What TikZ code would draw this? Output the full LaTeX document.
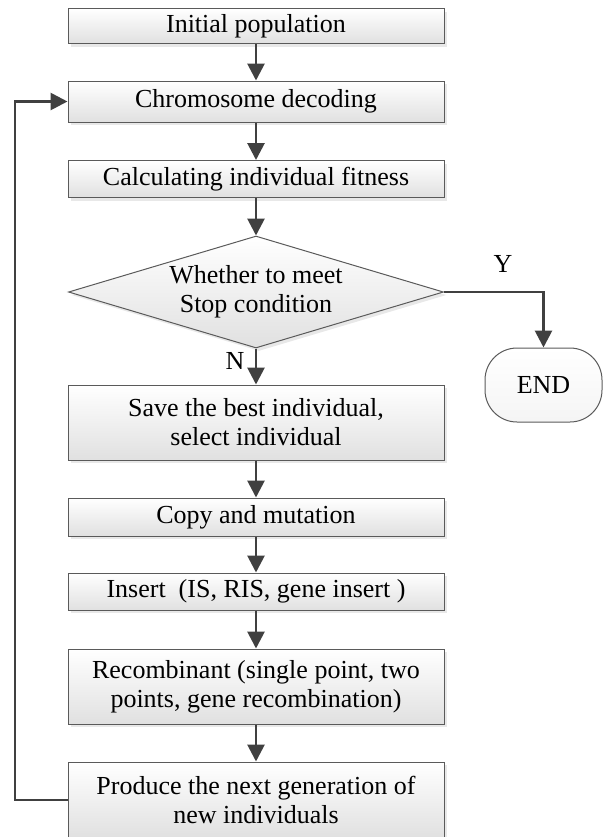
\documentclass[tikz,border=0pt]{standalone}
\usepackage{fontspec}
\setmainfont{Liberation Serif}
\usetikzlibrary{shapes.geometric,arrows.meta,shadows}
\definecolor{edgegray}{HTML}{5A5A5A}
\definecolor{flowgray}{HTML}{404040}
\tikzset{
  procbox/.style={draw=edgegray, line width=0.5pt, top color=white, bottom color=black!12,
    drop shadow={shadow xshift=1.5pt, shadow yshift=-1.5pt, fill=black!18},
    minimum width=188pt, align=center, inner sep=0pt},
  decision/.style={diamond, aspect=3.35, draw=edgegray, line width=0.5pt, top color=white, bottom color=black!12,
    drop shadow={shadow xshift=1.5pt, shadow yshift=-1.5pt, fill=black!18},
    minimum width=187.5pt, minimum height=56pt, align=center, inner sep=0pt},
  endbox/.style={draw=edgegray, line width=0.5pt, top color=white, bottom color=black!4,
    rounded corners=16pt, minimum width=58.5pt, minimum height=37pt, inner sep=0pt},
  flow/.style={draw=flowgray, line width=1.4pt, -{Triangle[length=8.5pt, width=8.5pt]}}
}
\begin{document}
\begin{tikzpicture}[x=0.5pt, y=-0.5pt, font=\fontsize{13}{14.5}\selectfont]
  \useasboundingbox (0,0) rectangle (603,837);
  % main column of steps
  \node[procbox, minimum height=17.5pt] (init)    at (256,26)    {Initial population};
  \node[procbox, minimum height=20.5pt] (decode)  at (256,101.5) {Chromosome decoding};
  \node[procbox, minimum height=18.5pt] (fitness) at (256,179)   {Calculating individual fitness};
  \node[decision] (judge) at (256,292) {Whether to meet\\Stop condition};
  \node[procbox, minimum height=37.5pt] (save)    at (256,422.5) {Save the best individual,\\select individual};
  \node[procbox, minimum height=19pt]   (copy)    at (256,517)   {Copy and mutation};
  \node[procbox, minimum height=18.5pt] (insert)  at (256,591.5) {Insert\ \ (IS, RIS, gene insert~)};
  \node[procbox, minimum height=37.5pt] (recomb)  at (256,686.5) {Recombinant (single point, two\\points, gene recombination)};
  \node[procbox, minimum height=38pt]   (produce) at (256,800)   {Produce the next generation of\\new individuals};
  \node[endbox] (stop) at (543.5,385) {END};
  % branch labels
  \node (yes) at (503,264) {Y};
  \node (no)  at (235,361) {N};
  % connectors
  \draw[flow] (init) -- (decode);
  \draw[flow] (decode) -- (fitness);
  \draw[flow] (fitness) -- (judge);
  \draw[flow] (judge) -- (save);
  \draw[flow] (judge.east) -| (stop.north);
  \draw[flow] (save) -- (copy);
  \draw[flow] (copy) -- (insert);
  \draw[flow] (insert) -- (recomb);
  \draw[flow] (recomb) -- (produce);
  \coordinate (back) at (15,800);
  \draw[flow] (produce.west) -- (back) |- (decode.west);
\end{tikzpicture}
\end{document}
